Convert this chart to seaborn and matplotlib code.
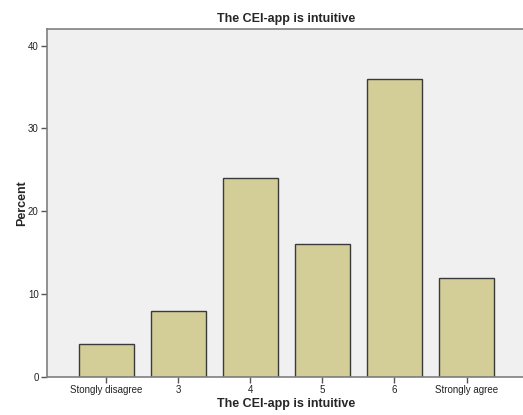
import matplotlib
matplotlib.use("Agg")
import matplotlib.pyplot as plt
import seaborn as sns
import pandas as pd

# data
categories = ['Stongly disagree', '3', '4', '5', '6', 'Strongly agree']
percent = [4, 8, 24, 16, 36, 12]

sns.set_style("white")
plt.rcParams['font.family'] = ['Arial', 'Liberation Sans', 'DejaVu Sans']

df = pd.DataFrame({'answer': categories, 'pct': percent})

fig = plt.figure(figsize=(5.23, 4.15), dpi=100)
ax = fig.add_axes([0.09, 0.0916, 0.915, 0.8385])
ax.set_facecolor('#F0F0F0')

sns.barplot(data=df, x='answer', y='pct', order=categories, color='#D3CE97',
            saturation=1, width=0.76, edgecolor='#3A3A3A', linewidth=1.0, ax=ax)

ax.set_xlim(-0.82, 5.82)
ax.set_ylim(0, 42)
ax.set_yticks([0, 10, 20, 30, 40])
ax.tick_params(axis='both', length=4, width=1, color='#555555', labelsize=7,
               labelcolor='#222222', direction='out', bottom=True, left=True, pad=2)

for side in ['left', 'bottom', 'top']:
    ax.spines[side].set_color('#808080')
    ax.spines[side].set_linewidth(1.2)
ax.spines['right'].set_visible(False)

ax.set_title('The CEI-app is intuitive', fontsize=9, fontweight='bold', pad=5)
ax.set_xlabel('The CEI-app is intuitive', fontsize=9, fontweight='bold', labelpad=2)
ax.set_ylabel('Percent', fontsize=9, fontweight='bold', labelpad=0)

fig.savefig('out.png', dpi=100)
